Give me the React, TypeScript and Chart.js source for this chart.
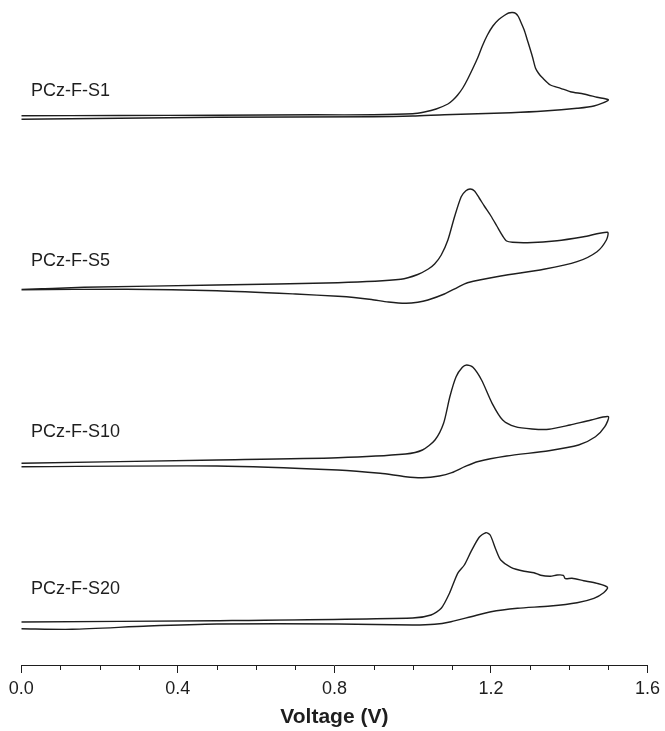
import React, { useEffect, useRef } from "react";
import { Chart, registerables } from "chart.js";

Chart.register(...registerables);

// Cyclic voltammograms (current in arbitrary, vertically offset units)
const s1Voltage = [0, 0.25, 0.5, 0.75, 0.9, 1.0, 1.03, 1.06, 1.09, 1.103, 1.115, 1.128, 1.14, 1.153, 1.166, 1.178, 1.191, 1.205, 1.22, 1.234, 1.245, 1.255, 1.263, 1.27, 1.276, 1.285, 1.293, 1.306, 1.314, 1.322, 1.331, 1.352, 1.378, 1.403, 1.437, 1.471, 1.5, 1.463, 1.42, 1.336, 1.251, 1.166, 1.081, 1.0, 0.9, 0.5, 0.25, 0];
const s1Current = [549.3, 549.5, 549.8, 550.2, 550.2, 551.2, 553, 556, 561, 565, 570, 577, 585.5, 596, 607, 619, 630, 639, 645.5, 649.5, 652, 652.5, 651.7, 648.5, 643.3, 635, 625, 608.3, 596.7, 591.5, 587.5, 580, 576.7, 573.3, 571, 567.7, 565, 559, 556.7, 554, 552.3, 551.3, 550.3, 549, 548.3, 547.7, 546.7, 545.7];

const s5Voltage = [0, 0.16, 0.5, 0.809, 0.97, 1.013, 1.04, 1.056, 1.073, 1.09, 1.107, 1.124, 1.136, 1.147, 1.158, 1.17, 1.183, 1.2, 1.215, 1.23, 1.24, 1.255, 1.293, 1.369, 1.437, 1.498, 1.495, 1.471, 1.42, 1.335, 1.225, 1.14, 1.115, 1.081, 1.039, 1.013, 0.982, 0.938, 0.895, 0.85, 0.809, 0.701, 0.5, 0.27, 0];
const s5Current = [375.5, 377.7, 380, 382.3, 385.7, 390.5, 396, 401, 410, 425, 448.3, 468.3, 474.3, 476, 474, 467, 459, 449, 439, 429, 424, 422.7, 422.3, 424.3, 428.3, 432.7, 425, 413.3, 403.3, 395.7, 389, 382.3, 377.7, 371, 365, 362.7, 361.7, 363, 365.5, 367.5, 368.7, 371, 374.3, 375.7, 375.3];

const s10Voltage = [0, 0.5, 0.809, 0.982, 1.025, 1.057, 1.079, 1.095, 1.111, 1.127, 1.138, 1.154, 1.176, 1.203, 1.23, 1.262, 1.305, 1.348, 1.402, 1.456, 1.5, 1.491, 1.467, 1.424, 1.348, 1.24, 1.165, 1.133, 1.1, 1.068, 1.025, 0.982, 0.917, 0.809, 0.5, 0];
const s10Current = [201.7, 205, 207.3, 211, 215, 225, 241.7, 268.3, 288.3, 297.7, 300, 297.7, 285, 261.7, 245, 238.3, 236, 235.7, 240, 245, 248.3, 238.3, 228.3, 220, 214.3, 209, 203.3, 198.3, 192.3, 189, 187.3, 188.3, 191.7, 195, 199, 198.3];

const s20Voltage = [0, 0.5, 1.0, 1.047, 1.073, 1.094, 1.115, 1.132, 1.149, 1.17, 1.187, 1.198, 1.213, 1.225, 1.251, 1.285, 1.31, 1.327, 1.352, 1.369, 1.385, 1.39, 1.407, 1.437, 1.471, 1.498, 1.488, 1.463, 1.42, 1.352, 1.268, 1.2, 1.149, 1.098, 1.056, 1.0, 0.809, 0.5, 0.324, 0.13, 0];
const s20Current = [43, 44.3, 47, 50, 56.7, 71.7, 91.7, 100, 113.3, 127.7, 132.3, 130, 115, 105, 97.7, 93.7, 92.3, 89.7, 88.7, 90, 89.7, 86.3, 86.7, 84.3, 81.7, 77.7, 72.3, 66.7, 62.3, 59, 56.7, 53.3, 48.3, 43.3, 40.7, 40, 41, 41, 39, 35.7, 36.2];

const curveNames = ["PCz-F-S1", "PCz-F-S5", "PCz-F-S10", "PCz-F-S20"];
const labelVoltage = [0.025, 0.025, 0.025, 0.025];
const labelLevel = [569.3, 399.3, 227.7, 71];

const xMin = 0;
const xMax = 1.6;
const minorStep = 0.1;
const majorEvery = 4;
const yMin = 0;
const yMax = 665;

const FONT = "Arial, 'Liberation Sans', Helvetica, sans-serif";
const INK = "#1e1e1e";

const isMajor = (v: number) => Math.round(v / minorStep) % majorEvery === 0;

const minorTickPlugin = {
  id: "minorTicks",
  afterDraw(chart: any) {
    const xs = chart.scales.x;
    const ctx = chart.ctx;
    const yb = chart.chartArea.bottom;
    ctx.save();
    ctx.strokeStyle = INK;
    ctx.lineWidth = 1;
    const n = Math.round((xMax - xMin) / minorStep);
    for (let i = 0; i <= n; i++) {
      if (i % majorEvery === 0) continue;
      const px = Math.round(xs.getPixelForValue(xMin + i * minorStep)) + 0.5;
      ctx.beginPath();
      ctx.moveTo(px, yb);
      ctx.lineTo(px, yb + 5);
      ctx.stroke();
    }
    ctx.restore();
  },
};

const curveLabelPlugin = {
  id: "curveLabels",
  afterDatasetsDraw(chart: any) {
    const xs = chart.scales.x;
    const ys = chart.scales.y;
    const ctx = chart.ctx;
    ctx.save();
    ctx.fillStyle = INK;
    ctx.font = `18px ${FONT}`;
    ctx.textAlign = "left";
    ctx.textBaseline = "alphabetic";
    curveNames.forEach((name, i) => {
      ctx.fillText(name, xs.getPixelForValue(labelVoltage[i]), ys.getPixelForValue(labelLevel[i]));
    });
    ctx.restore();
  },
};

const toPoints = (xs: number[], ys: number[]) => xs.map((x, i) => ({ x, y: ys[i] }));

export default function App() {
  const ref = useRef<HTMLCanvasElement | null>(null);

  useEffect(() => {
    document.body.style.margin = "0";
    if (!ref.current) return;
    const series = [
      toPoints(s1Voltage, s1Current),
      toPoints(s5Voltage, s5Current),
      toPoints(s10Voltage, s10Current),
      toPoints(s20Voltage, s20Current),
    ];
    const chart = new Chart(ref.current, {
      type: "scatter",
      data: {
        datasets: series.map((data, i) => ({
          label: curveNames[i],
          data,
          showLine: true,
          borderColor: INK,
          borderWidth: 1.4,
          pointRadius: 0,
          tension: 0.25,
          fill: false,
        })),
      },
      options: {
        animation: false,
        responsive: false,
        devicePixelRatio: 1,
        events: [],
        layout: { padding: { left: 21.3, right: 14.3, top: 0, bottom: 0 } },
        plugins: { legend: { display: false }, tooltip: { enabled: false }, title: { display: false } },
        scales: {
          x: {
            type: "linear",
            position: "bottom",
            min: xMin,
            max: xMax,
            afterFit: (s: any) => {
              s.height = 66;
            },
            border: { display: true, color: INK, width: 1 },
            grid: {
              display: true,
              drawOnChartArea: false,
              drawTicks: true,
              tickLength: 8,
              tickWidth: 1,
              tickColor: (c: any) => (c.tick && isMajor(c.tick.value) ? INK : "rgba(0,0,0,0)"),
            },
            ticks: {
              stepSize: minorStep,
              autoSkip: false,
              maxRotation: 0,
              minRotation: 0,
              padding: 5,
              color: INK,
              font: { family: FONT, size: 18 },
              callback: (v: any) => (isMajor(Number(v)) ? Number(v).toFixed(1) : ""),
            },
            title: {
              display: true,
              text: "Voltage (V)",
              color: INK,
              font: { family: FONT, size: 21, weight: "bold" },
              padding: { top: 0, bottom: 1 },
            },
          },
          y: { type: "linear", display: false, min: yMin, max: yMax },
        },
      },
      plugins: [minorTickPlugin, curveLabelPlugin],
    });
    return () => chart.destroy();
  }, []);

  return <canvas ref={ref} width={665} height={731} style={{ display: "block" }} />;
}
